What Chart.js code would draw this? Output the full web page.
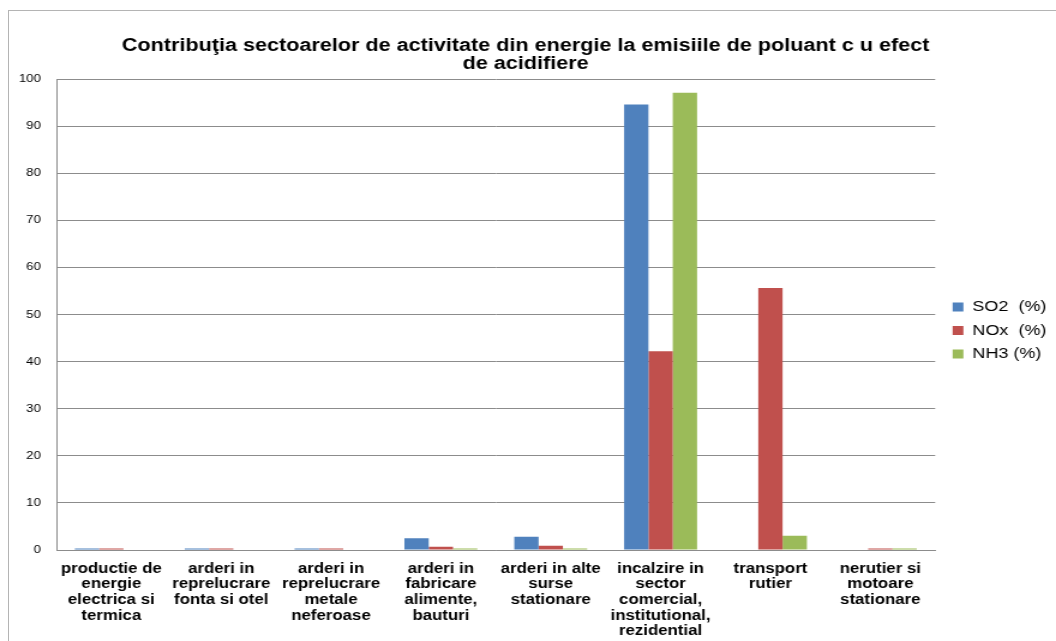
<!DOCTYPE html>
<html>
<head>
<meta charset="utf-8">
<script src="https://cdn.jsdelivr.net/npm/chart.js@4"></script>
<style>
  html, body { margin: 0; padding: 0; background: #fff; overflow: hidden; }
  #frame { position: absolute; left: 8px; top: 10px; width: 1100px; height: 700px; border: 1px solid #b4b4b4; }
  /* the source picture is stretched horizontally by ~1.2 */
  #wrap { position: absolute; left: 0; top: 0; width: 880px; height: 641px; transform: scaleX(1.2); transform-origin: 0 0; }
</style>
</head>
<body>
<div id="frame"></div>
<div id="wrap"><canvas id="chart"></canvas></div>
<script>
// Contributia sectoarelor de activitate din energie la emisiile acidifiante
const categories = [
  ['productie de', 'energie', 'electrica si', 'termica'],
  ['arderi in', 'reprelucrare', 'fonta si otel'],
  ['arderi in', 'reprelucrare', 'metale', 'neferoase'],
  ['arderi in', 'fabricare', 'alimente,', 'bauturi'],
  ['arderi in alte', 'surse', 'stationare'],
  ['incalzire in', 'sector', 'comercial,', 'institutional,', 'rezidential'],
  ['transport', 'rutier'],
  ['nerutier si', 'motoare', 'stationare'],
];
const so2 = [0.3, 0.3, 0.3, 2.5, 2.8, 94.6, 0, 0];
const nox = [0.3, 0.3, 0.3, 0.7, 0.9, 42.2, 55.6, 0.3];
const nh3 = [0, 0, 0, 0.3, 0.3, 97.1, 3.0, 0.3];
const yTicks = [0, 10, 20, 30, 40, 50, 60, 70, 80, 90, 100];

const FONT = "'Liberation Sans', Arial, sans-serif";
const GRID = '#8c8c8c';

const bar = (label, data, color) => ({
  label,
  data,
  backgroundColor: color,
  borderWidth: 0,
  categoryPercentage: 0.664,
  barPercentage: 1,
});

// nudge the legend block a bit right/down, like the original
const legendNudge = {
  id: 'legendNudge',
  afterLayout(chart) {
    const l = chart.legend;
    l.left += 6; l.right += 6;
    l.top += 10; l.bottom += 10;
  },
};

new Chart(document.getElementById('chart'), {
  type: 'bar',
  data: {
    labels: categories,
    datasets: [
      bar('SO2  (%)', so2, '#4f81bd'),
      bar('NOx  (%)', nox, '#c0504d'),
      bar('NH3 (%)', nh3, '#9bbb59'),
    ],
  },
  plugins: [legendNudge],
  options: {
    responsive: true,
    maintainAspectRatio: false,
    animation: false,
    layout: { padding: { left: 0, right: 4, top: 0, bottom: 0 } },
    plugins: {
      title: {
        display: true,
        text: ['Contribuţia sectoarelor de activitate din energie la emisiile de poluant c u efect', 'de acidifiere'],
        color: '#000',
        font: { family: FONT, size: 18, weight: 'bold', lineHeight: 1.0 },
        padding: { top: 37, bottom: 6 },
      },
      legend: {
        position: 'right',
        labels: {
          color: '#000',
          font: { family: FONT, size: 15 },
          boxWidth: 9,
          boxHeight: 9,
          padding: 8.5,
        },
      },
      tooltip: { enabled: false },
    },
    scales: {
      x: {
        grid: { display: false, drawTicks: false },
        border: { color: GRID },
        ticks: {
          color: '#000',
          font: { family: FONT, size: 14, weight: 'bold', lineHeight: 1.12 },
          maxRotation: 0,
          autoSkip: false,
          padding: 11,
        },
        afterFit: (s) => { s.height = 91; },
      },
      y: {
        min: 0,
        max: 100,
        afterBuildTicks: (s) => { s.ticks = yTicks.map((v) => ({ value: v })); },
        grid: { color: GRID, drawTicks: false },
        border: { color: GRID },
        ticks: {
          color: '#000',
          font: { family: FONT, size: 11 },
          padding: 13,
        },
        afterFit: (s) => { s.width = 47; },
      },
    },
  },
});
</script>
</body>
</html>
